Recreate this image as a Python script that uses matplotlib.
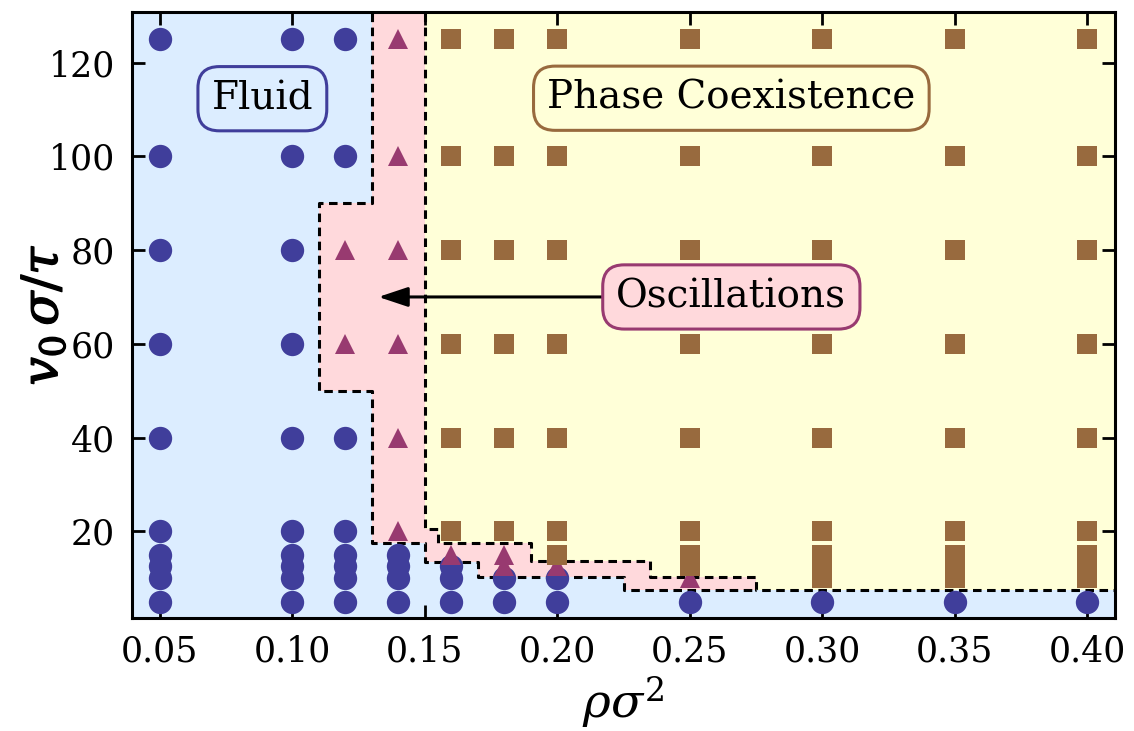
import matplotlib
matplotlib.use("Agg")
import matplotlib.pyplot as plt
from matplotlib import patheffects

plt.rcParams['font.family'] = ['DejaVu Serif']
plt.rcParams['mathtext.fontset'] = 'dejavuserif'

# run results: density -> list of v0 values, one list per observed state
fluid_pts = {
    0.05: [5, 10, 12.5, 15, 20, 40, 60, 80, 100, 125],
    0.10: [5, 10, 12.5, 15, 20, 40, 60, 80, 100, 125],
    0.12: [5, 10, 12.5, 15, 20, 40, 100, 125],
    0.14: [5, 10, 12.5, 15],
    0.16: [5, 10, 12.5],
    0.18: [5, 10],
    0.20: [5, 10],
    0.25: [5],
    0.30: [5],
    0.35: [5],
    0.40: [5],
}
osc_pts = {
    0.12: [60, 80],
    0.14: [20, 40, 60, 80, 100, 125],
    0.16: [15],
    0.18: [12.5, 15],
    0.20: [12.5],
    0.25: [10],
}
coex_pts = {
    0.16: [20, 40, 60, 80, 100, 125],
    0.18: [20, 40, 60, 80, 100, 125],
    0.20: [15, 20, 40, 60, 80, 100, 125],
    0.25: [12.5, 15, 20, 40, 60, 80, 100, 125],
    0.30: [10, 12.5, 15, 20, 40, 60, 80, 100, 125],
    0.35: [10, 12.5, 15, 20, 40, 60, 80, 100, 125],
    0.40: [10, 12.5, 15, 20, 40, 60, 80, 100, 125],
}

# phase boundaries (step lines)
osc_edge_x = [0.13, 0.13, 0.11, 0.11, 0.13, 0.13, 0.15, 0.15, 0.17, 0.17, 0.225, 0.225, 0.275]
osc_edge_y = [135, 90, 90, 50, 50, 17.5, 17.5, 13.5, 13.5, 10.25, 10.25, 7.5, 7.5]
coex_edge_x = [0.15, 0.15, 0.155, 0.155, 0.19, 0.19, 0.235, 0.235, 0.275, 0.275, 0.42]
coex_edge_y = [135, 20.5, 20.5, 17.5, 17.5, 13.75, 13.75, 10.25, 10.25, 7.5, 7.5]

xlo, xhi = 0.0395, 0.4105
ylo, yhi = 1.5, 130.8

c_fluid_bg = '#dcedff'
c_osc_bg = '#ffd9dc'
c_coex_bg = '#ffffd8'
c_fluid = '#403e9b'
c_osc = '#983a70'
c_coex = '#986a3e'


def flatten(d):
    xs, ys = [], []
    for k, v in d.items():
        xs += [k] * len(v)
        ys += v
    return xs, ys


fig = plt.figure(figsize=(11.34, 7.31), dpi=100)
ax = fig.add_axes([132 / 1134, 1 - 618 / 731, 983 / 1134, 606 / 731])
ax.set_facecolor(c_fluid_bg)

# shaded regions
ax.fill(osc_edge_x + [0.42, 0.42], osc_edge_y + [7.5, 135], color=c_osc_bg, lw=0, zorder=0)
ax.fill(coex_edge_x + [0.42], coex_edge_y + [135], color=c_coex_bg, lw=0, zorder=0)
ax.plot(osc_edge_x, osc_edge_y, color='black', lw=2.2, dashes=(2.8, 1.8), zorder=1)
ax.plot(coex_edge_x, coex_edge_y, color='black', lw=2.2, dashes=(2.8, 1.8), zorder=1)

x, y = flatten(fluid_pts)
ax.plot(x, y, 'o', ms=16.8, color=c_fluid, mew=0, zorder=2)
x, y = flatten(osc_pts)
ax.plot(x, y, '^', ms=14.5, color=c_osc, mew=0, zorder=3)
x, y = flatten(coex_pts)
ax.plot(x, y, 's', ms=14, color=c_coex, mew=0, zorder=4)

box = 'round,pad=0.35,rounding_size=0.55'
ax.text(0.0887, 112.3, 'Fluid', fontsize=28, ha='center', va='center', zorder=5,
        bbox=dict(boxstyle=box, fc=c_fluid_bg, ec=c_fluid, lw=2.2))
ax.text(0.2657, 112.4, 'Phase Coexistence', fontsize=28, ha='center', va='center', zorder=5,
        bbox=dict(boxstyle=box, fc=c_coex_bg, ec=c_coex, lw=2.2))
ax.annotate('Oscillations', xy=(0.1325, 70), xytext=(0.2657, 70), fontsize=28,
            ha='center', va='center', zorder=5,
            bbox=dict(boxstyle=box, fc=c_osc_bg, ec=c_osc, lw=2.2),
            arrowprops=dict(arrowstyle='-|>,head_length=0.9,head_width=0.3', color='black',
                            lw=2.2, mutation_scale=20, shrinkA=0, shrinkB=0))

ax.set_xlim(xlo, xhi)
ax.set_ylim(ylo, yhi)
xt = [0.05, 0.10, 0.15, 0.20, 0.25, 0.30, 0.35, 0.40]
yt = [20, 40, 60, 80, 100, 120]
ax.set_xticks(xt)
ax.set_xticklabels([f'{t:.2f}' for t in xt])
ax.set_yticks(yt)
ax.set_yticklabels([str(t) for t in yt])
ax.tick_params(direction='in', length=9.5, width=2, labelsize=25, pad=12,
               top=True, right=True)
for s in ax.spines.values():
    s.set_linewidth(2.2)

ax.set_xlabel(r'$\rho\sigma^2$', fontsize=34, labelpad=4)
yl = ax.set_ylabel(r'$v_0\,\sigma/\tau$', fontsize=36)
yl.set_va('center')
ax.yaxis.set_label_coords(-0.09, 0.5)
yl.set_path_effects([patheffects.withStroke(linewidth=1.0, foreground='black')])

fig.savefig('out.png', dpi=100)
